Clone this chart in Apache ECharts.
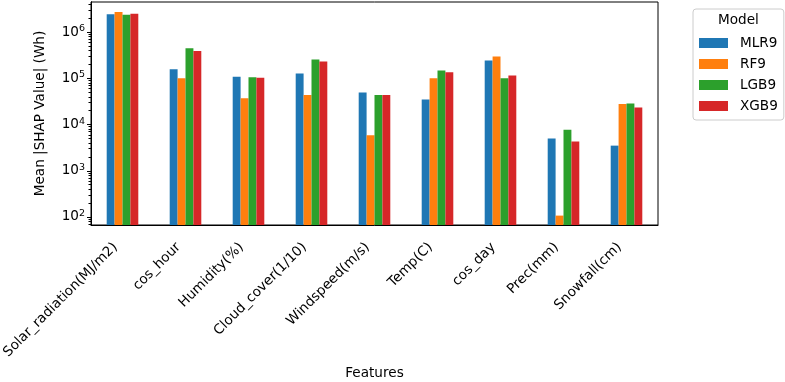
<!DOCTYPE html>
<html><head><meta charset="utf-8">
<script src="https://cdn.jsdelivr.net/npm/echarts@6/dist/echarts.min.js"></script>
<style>html,body{margin:0;padding:0;background:#fff}#c{width:785px;height:382px}</style>
</head><body><div id="c"></div>
<script>
const categories = ['Solar_radiation(MJ/m2)','cos_hour','Humidity(%)','Cloud_cover(1/10)','Windspeed(m/s)','Temp(C)','cos_day','Prec(mm)','Snowfall(cm)'];
const MLR9 = [2.45e6, 1.58e5, 1.08e5, 1.28e5, 4.97e4, 3.5e4, 2.44e5, 5.0e3, 3.5e3];
const RF9  = [2.75e6, 1.0e5, 3.7e4, 4.35e4, 5.9e3, 1.0e5, 2.98e5, 107, 2.8e4];
const LGB9 = [2.37e6, 4.5e5, 1.06e5, 2.57e5, 4.35e4, 1.48e5, 1.0e5, 7.7e3, 2.87e4];
const XGB9 = [2.49e6, 3.9e5, 1.03e5, 2.32e5, 4.35e4, 1.36e5, 1.16e5, 4.3e3, 2.35e4];
const seriesNames = ['MLR9','RF9','LGB9','XGB9'];
const colors = ['#1f77b4','#ff7f0e','#2ca02c','#d62728'];
const majorTicks = [100, 1000, 10000, 100000, 1000000];
const minorTicks = [];
[10,100,1000,10000,100000,1000000].forEach(d => { for (let k = 2; k <= 9; k++) minorTicks.push(k*d); });
const yMin = 67, yMax = 4.5e6;

const font = 'DejaVu Sans';
const fs = 13.6;
const chart = echarts.init(document.getElementById('c'), null, {renderer:'canvas'});
chart.setOption({
  animation: false,
  color: colors,
  textStyle: {fontFamily: font},
  grid: {left: 91, right: 127, top: 2, bottom: 157, show: true, borderColor: '#000', borderWidth: 1, backgroundColor: 'transparent', outerBoundsMode: 'none', containLabel: false},
  xAxis: {
    type: 'category', data: categories,
    axisLine: {lineStyle: {color: '#000', width: 1}},
    axisTick: {alignWithLabel: true, length: 4, lineStyle: {color: '#000'}},
    axisLabel: {rotate: 45, color: '#000', fontSize: fs, fontFamily: font, margin: 13, interval: 0, padding: [0, 10, 0, 0]},
    name: 'Features', nameLocation: 'middle', nameGap: 141,
    nameTextStyle: {color: '#000', fontSize: fs, fontFamily: font}
  },
  yAxis: [{
    type: 'log', min: yMin, max: yMax, logBase: 10,
    axisLine: {show: true, lineStyle: {color: '#000'}},
    axisTick: {show: true, length: 4, lineStyle: {color: '#000'}, customValues: majorTicks},
    splitLine: {show: false},
    axisLabel: {
      customValues: majorTicks, color: '#000', fontFamily: font, margin: 6,
      formatter: v => { const e = Math.round(Math.log10(v)); return '{b|10}{s|' + e + '}'; },
      rich: {b: {fontSize: fs, color: '#000', fontFamily: font}, s: {fontSize: 9.5, color: '#000', fontFamily: font, padding: [0,0,7,0]}}
    },
    name: 'Mean |SHAP Value| (Wh)', nameLocation: 'middle', nameGap: 44,
    nameTextStyle: {color: '#000', fontSize: fs, fontFamily: font}
  }, {
    type: 'log', min: yMin, max: yMax, logBase: 10, position: 'left', offset: 0,
    axisLine: {show: true, lineStyle: {color: '#000'}},
    axisTick: {show: true, length: 2.5, lineStyle: {color: '#000', width: 1}, customValues: minorTicks},
    axisLabel: {show: false, customValues: minorTicks}, splitLine: {show: false}
  }],
  legend: {
    orient: 'vertical', left: 693, top: 9,
    data: seriesNames,
    itemWidth: 29, itemHeight: 10, itemGap: 7,
    icon: 'rect',
    padding: [27, 6, 7, 6],
    borderColor: '#cccccc', borderWidth: 1, borderRadius: 3, backgroundColor: '#fff',
    textStyle: {color: '#000', fontSize: fs, fontFamily: font, padding: [0,0,0,7]}
  },
  graphic: [{
    type: 'text', left: 718, top: 13, z: 100,
    style: {text: 'Model', fontSize: fs, fontFamily: font, fill: '#000'}
  }],
  series: seriesNames.map((n, i) => ({
    name: n, type: 'bar', barWidth: 7.9, barGap: '0%',
    data: [MLR9, RF9, LGB9, XGB9][i],
    itemStyle: {color: colors[i]}
  }))
});
</script></body></html>
